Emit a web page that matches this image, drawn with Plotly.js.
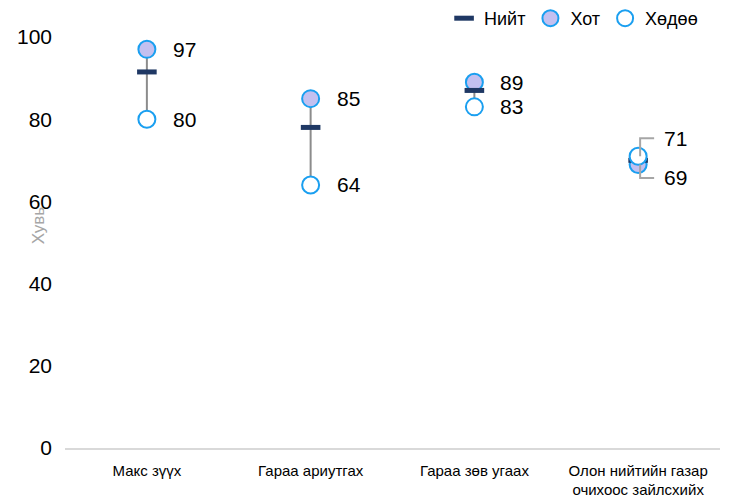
<!DOCTYPE html>
<html><head><meta charset="utf-8">
<script src="https://cdn.plot.ly/plotly-3.0.1.min.js"></script>
<style>html,body{margin:0;padding:0;background:#fff}#chart{width:734px;height:502px}</style>
</head><body><div id="chart"></div>
<script>
const categories = ["Макс зүүх", "Гараа ариутгах", "Гараа зөв угаах", "Олон нийтийн газар<br>очихоос зайлсхийх"];
const total = [91.5, 78, 87, 70];
const urban = [97, 85, 89, 69];
const rural = [80, 64, 83, 71];
const yTicks = [0, 20, 40, 60, 80, 100];

const blue = '#1A9FF0';
const navy = '#1F3864';

// connecting lines (urban to rural)
const lx = [], ly = [];
categories.forEach((c, i) => { lx.push(c, c, null); ly.push(urban[i], rural[i], null); });

const traces = [
  {x: lx, y: ly, mode: 'lines', line: {color: '#8C8C8C', width: 2}, showlegend: false, hoverinfo: 'skip', cliponaxis: false},
  {x: categories, y: urban, name: 'Хот', mode: 'markers', legendrank: 2, cliponaxis: false,
   marker: {symbol: 'circle', size: 17, color: '#C3C0F0', line: {color: blue, width: 2}}},
  {x: categories, y: total, name: 'Нийт', mode: 'markers', legendrank: 1, cliponaxis: false,
   marker: {symbol: 'line-ew', size: 14, line: {color: navy, width: 5}}},
  {x: categories, y: rural, name: 'Хөдөө', mode: 'markers', legendrank: 3, cliponaxis: false,
   marker: {symbol: 'circle', size: 17, color: '#FFFFFF', line: {color: blue, width: 2}}}
];

const annotations = [];
const shapes = [];
const lblFont = {family: 'Liberation Sans, Arial, sans-serif', size: 21, color: '#000'};
categories.forEach((c, i) => {
  const close = Math.abs(urban[i] - rural[i]) < 5;
  [[urban[i], urban[i] < rural[i]], [rural[i], rural[i] < urban[i]]].forEach(([v, isLow]) => {
    if (!close) {
      annotations.push({x: c, y: v, text: String(Math.round(v)), showarrow: false, xanchor: 'left', xshift: 24, font: lblFont});
    } else {
      const dy = isLow ? -13.5 : 18;
      annotations.push({x: c, y: v, text: String(Math.round(v)), showarrow: false, xanchor: 'left', xshift: 24, yshift: dy, font: lblFont});
      shapes.push({type: 'path', xref: 'x', yref: 'y', xsizemode: 'pixel', ysizemode: 'pixel', xanchor: i, yanchor: v,
        path: `M 2,0 L 2,${dy} L 16,${dy}`, line: {color: '#A6A6A6', width: 2}});
    }
  });
});
annotations.push({xref: 'paper', yref: 'paper', x: -0.041, y: 0.54, xanchor: 'center', yanchor: 'middle', text: 'Хувь', textangle: -90, showarrow: false,
  font: {family: 'Liberation Sans, Arial, sans-serif', size: 17, color: '#A6A6A6'}});

const layout = {
  width: 734, height: 502,
  margin: {l: 65, r: 14, t: 37, b: 54},
  paper_bgcolor: '#fff', plot_bgcolor: '#fff',
  showlegend: true,
  legend: {orientation: 'h', xref: 'container', yref: 'container', x: 0.605, y: 1, xanchor: 'left', yanchor: 'top',
    font: {family: 'Liberation Sans, Arial, sans-serif', size: 18, color: '#000'}, itemwidth: 30, tracegroupgap: 0},
  xaxis: {type: 'category', categoryarray: categories, range: [-0.5, 3.5], showgrid: false, zeroline: false, showline: true,
    linecolor: '#D9D9D9', linewidth: 1.5, ticks: '', ticklabelstandoff: 8,
    tickfont: {family: 'Liberation Sans, Arial, sans-serif', size: 15, color: '#000'}},
  yaxis: {range: [0, 100], tickvals: yTicks, ticktext: yTicks.map(String), showgrid: false, zeroline: false,
    showline: false, ticks: '', ticklabelstandoff: 12,
    tickfont: {family: 'Liberation Sans, Arial, sans-serif', size: 21, color: '#000'}},
  annotations: annotations,
  shapes: shapes
};
Plotly.newPlot('chart', traces, layout, {displayModeBar: false, staticPlot: true});
</script></body></html>
